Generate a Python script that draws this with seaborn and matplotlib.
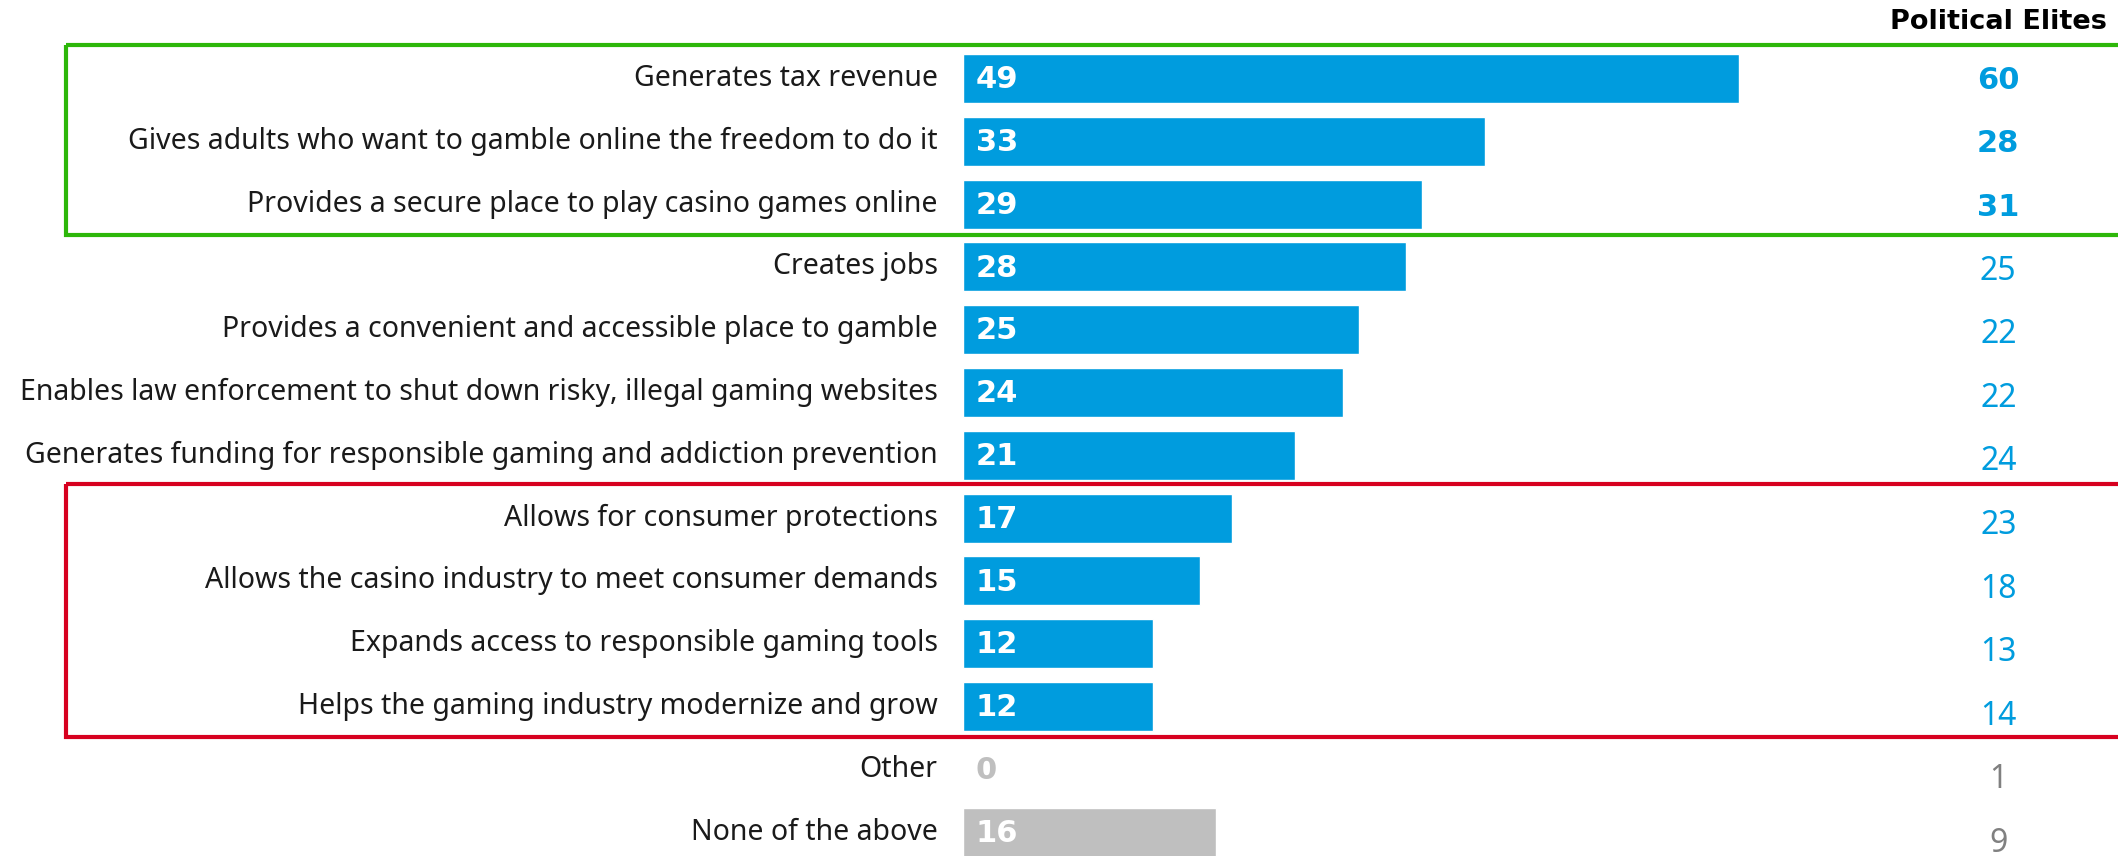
import matplotlib
matplotlib.use("Agg")
import matplotlib.pyplot as plt
from matplotlib.patches import Rectangle
import seaborn as sns
import pandas as pd

# Survey: reasons for legalising online casino gaming (% selecting)
categories = [
    "Generates tax revenue",
    "Gives adults who want to gamble online the freedom to do it",
    "Provides a secure place to play casino games online",
    "Creates jobs",
    "Provides a convenient and accessible place to gamble",
    "Enables law enforcement to shut down risky, illegal gaming websites",
    "Generates funding for responsible gaming and addiction prevention",
    "Allows for consumer protections",
    "Allows the casino industry to meet consumer demands",
    "Expands access to responsible gaming tools",
    "Helps the gaming industry modernize and grow",
    "Other",
    "None of the above",
]
all_voters = [49, 33, 29, 28, 25, 24, 21, 17, 15, 12, 12, 0, 16]
political_elites = [60, 28, 31, 25, 22, 22, 24, 23, 18, 13, 14, 1, 9]
column_title = "Political Elites"

BLUE = "#009CDE"
GREY = "#BFBFBF"
GREEN = "#2DB70A"
RED = "#D7001F"

n_main = 11  # substantive answers; the rest are "Other"/"None"
bar_colors = [BLUE] * n_main + [GREY] * (len(categories) - n_main)
top_group = (0, 2)
bottom_group = (7, 10)

sns.set_theme(style="white")
plt.rcParams["font.family"] = ["Noto Sans", "DejaVu Sans"]
BOLD_FONT = ["DejaVu Sans"]

fig = plt.figure(figsize=(21.18, 8.56), dpi=100)
ax = fig.add_axes([0, 0, 1, 1])

df = pd.DataFrame({"answer": categories, "pct": all_voters})
sns.barplot(data=df, x="pct", y="answer", hue="answer", palette=bar_colors,
            orient="h", width=0.78, legend=False, saturation=1, ax=ax)

px_per_unit = 15.83
row_px = 62.8
x0_px = 963
y0_px = 78.5
ax.set_xlim(-x0_px / px_per_unit, (2118 - x0_px) / px_per_unit)
ax.set_ylim((856 - y0_px) / row_px, -y0_px / row_px)
ax.axis("off")

for i, (cat, v, pe) in enumerate(zip(categories, all_voters, political_elites)):
    main = i < n_main
    ax.text(-1.6, i, cat, ha="right", va="center", fontsize=20.5,
            color="#1a1a1a")
    ax.text(0.8, i + 0.02, str(v), ha="left", va="center", fontsize=22,
            fontweight="bold", family=BOLD_FONT,
            color="white" if (main or v > 0) else GREY)
    bold = top_group[0] <= i <= top_group[1]
    ax.text(65.4, i * 1.0125 + 0.03, str(pe), ha="center", va="center",
            fontsize=23 if not bold else 22,
            fontweight="bold" if bold else "normal",
            family=BOLD_FONT if bold else None,
            color=BLUE if main else "#808080")

ax.text(2107, 856 - 22, column_title, transform=None, ha="right",
        va="center", fontsize=19.5, fontweight="bold", family=BOLD_FONT,
        color="black")

left_box = (66 - x0_px) / px_per_unit
for (a, b), col in ((top_group, GREEN), (bottom_group, RED)):
    ax.add_patch(Rectangle((left_box, a - 0.54), 200, (b - a) + 1.03,
                           fill=False, edgecolor=col, linewidth=3,
                           clip_on=True))

fig.savefig("out.png", dpi=100)
